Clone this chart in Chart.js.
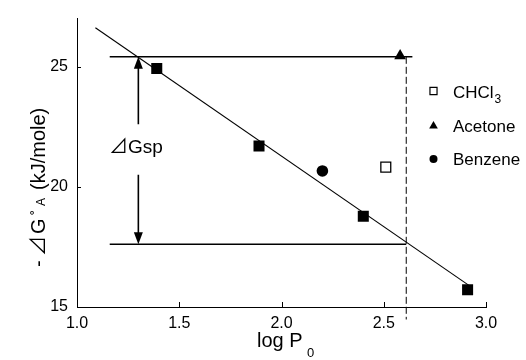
<!DOCTYPE html>
<html>
<head>
<meta charset="utf-8">
<script src="https://cdn.jsdelivr.net/npm/chart.js@4"></script>
<style>
    html, body { margin: 0; padding: 0; background: #fff; }
</style>
</head>
<body>
<canvas id="gspChart" width="526" height="360"></canvas>
<script>
// data
const xTicks = [1.0, 1.5, 2.0, 2.5, 3.0];
const yTicks = [15, 20, 25];

const refX = [1.39, 1.89, 2.40, 2.91];      // filled squares
const refY = [24.92, 21.70, 18.78, 15.72];
const chclX = [2.51];
const chclY = [20.82];
const acetoneX = [2.58];
const acetoneY = [25.45];
const benzeneX = [2.20];
const benzeneY = [20.66];

const fitX = [1.09, 2.92];
const fitY = [26.62, 15.88];

const upperX = [1.16, 2.64];
const upperY = [25.41, 25.41];
const lowerX = [1.16, 2.61];
const lowerY = [17.61, 17.61];
const dashX = [2.61, 2.61];
const dashY = [25.41, 14.48];

const arrowX = 1.30;
const arrowTop = 25.41;
const arrowBottom = 17.61;
const arrowGap = [22.6, 20.5];

const legendNames = ['CHCl', 'Acetone', 'Benzene'];

const pts = (xs, ys) => xs.map((x, i) => ({ x: x, y: ys[i] }));
const FONT = "'Liberation Sans', Arial, sans-serif";
const TRI_FONT = "'Noto Sans CJK JP', 'DejaVu Sans', sans-serif";

const lineSet = (data, extra) => Object.assign({
    type: 'line',
    data: data,
    borderColor: '#000',
    borderWidth: 1,
    pointRadius: 0,
    fill: false,
    tension: 0
}, extra);

/* tick marks, arrowheads, axis titles, annotation and legend */
const extras = {
    id: 'extras',
    afterDraw(chart) {
        const ctx = chart.ctx;
        const xs = chart.scales.x, ys = chart.scales.y;
        const area = chart.chartArea;
        ctx.save();
        ctx.strokeStyle = '#000';
        ctx.fillStyle = '#000';
        ctx.lineWidth = 1;

        // inward tick marks
        yTicks.forEach(v => {
            const py = Math.round(ys.getPixelForValue(v)) + 0.5;
            ctx.beginPath();
            ctx.moveTo(area.left, py);
            ctx.lineTo(area.left + 4, py);
            ctx.stroke();
        });
        xTicks.forEach(v => {
            const px = Math.round(xs.getPixelForValue(v)) + 0.5;
            ctx.beginPath();
            ctx.moveTo(px, area.bottom);
            ctx.lineTo(px, area.bottom - 5);
            ctx.stroke();
        });

        // arrowheads
        const ax = xs.getPixelForValue(arrowX);
        const at = ys.getPixelForValue(arrowTop);
        const ab = ys.getPixelForValue(arrowBottom);
        ctx.beginPath();
        ctx.moveTo(ax, at);
        ctx.lineTo(ax - 4.5, at + 12);
        ctx.lineTo(ax + 4.5, at + 12);
        ctx.closePath();
        ctx.fill();
        ctx.beginPath();
        ctx.moveTo(ax, ab);
        ctx.lineTo(ax - 4.5, ab - 12);
        ctx.lineTo(ax + 4.5, ab - 12);
        ctx.closePath();
        ctx.fill();

        // annotation
        ctx.textBaseline = 'alphabetic';
        ctx.textAlign = 'left';
        ctx.font = '19px ' + TRI_FONT;
        ctx.fillText('\u22BF', 109, 153);
        ctx.font = '19px ' + FONT;
        ctx.fillText('Gsp', 128, 153);

        // x title
        ctx.font = '20px ' + FONT;
        ctx.fillText('log P', 257, 347);
        ctx.font = '13px ' + FONT;
        ctx.fillText('0', 307, 357);

        // y title
        ctx.save();
        ctx.translate(45, 267);
        ctx.rotate(-Math.PI / 2);
        ctx.font = '20px ' + FONT;
        ctx.fillText('-', 0, 0);
        ctx.font = '20px ' + TRI_FONT;
        ctx.fillText('\u22BF', 11, 0);
        ctx.font = '20px ' + FONT;
        ctx.fillText('G', 33, 0);
        ctx.font = '15px ' + FONT;
        ctx.fillText('\u02DA', 52, -3);
        ctx.font = '12px ' + FONT;
        ctx.fillText('A', 61, 0);
        ctx.font = '20px ' + FONT;
        ctx.fillText('(kJ/mole)', 77, 0);
        ctx.restore();

        // legend
        const marks = [
            { pointStyle: 'rect', radius: 5, rotation: 0, borderWidth: 1.2, fill: '#fff', y: 91 },
            { pointStyle: 'triangle', radius: 5, rotation: 0, borderWidth: 0, fill: '#000', y: 126 },
            { pointStyle: 'circle', radius: 4, rotation: 0, borderWidth: 0, fill: '#000', y: 159 }
        ];
        const baselines = [98, 132, 165];
        marks.forEach((m, i) => {
            ctx.fillStyle = m.fill;
            ctx.strokeStyle = '#000';
            ctx.lineWidth = m.borderWidth;
            Chart.helpers.drawPoint(ctx, m, 433.5, m.y);
            ctx.fillStyle = '#000';
            ctx.font = '17px ' + FONT;
            ctx.fillText(legendNames[i], 453, baselines[i]);
        });
        ctx.font = '17px ' + FONT;
        const cw = ctx.measureText(legendNames[0]).width;
        ctx.font = '12px ' + FONT;
        ctx.fillText('3', 453 + cw + 1, 103);

        ctx.restore();
    }
};

new Chart(document.getElementById('gspChart'), {
    type: 'scatter',
    data: {
        datasets: [
            {
                label: 'ref',
                data: pts(refX, refY),
                pointStyle: 'rect',
                pointRadius: 7.8,
                backgroundColor: '#000',
                borderColor: '#000',
                borderWidth: 0
            },
            {
                label: 'CHCl3',
                data: pts(chclX, chclY),
                pointStyle: 'rect',
                pointRadius: 7,
                backgroundColor: '#fff',
                borderColor: '#000',
                borderWidth: 1.3
            },
            {
                label: 'Acetone',
                data: pts(acetoneX, acetoneY),
                pointStyle: 'triangle',
                pointRadius: 6.8,
                backgroundColor: '#000',
                borderColor: '#000',
                borderWidth: 0
            },
            {
                label: 'Benzene',
                data: pts(benzeneX, benzeneY),
                pointStyle: 'circle',
                pointRadius: 5.8,
                backgroundColor: '#000',
                borderColor: '#000',
                borderWidth: 0
            },
            lineSet(pts(fitX, fitY), { borderWidth: 1.1 }),
            lineSet(pts(upperX, upperY), { borderWidth: 1.6 }),
            lineSet(pts(lowerX, lowerY), { borderWidth: 1.4 }),
            lineSet(pts(dashX, dashY), { borderDash: [7, 3], clip: false }),
            lineSet(pts([arrowX, arrowX], [arrowTop - 0.3, arrowGap[0]]), { borderWidth: 1.6 }),
            lineSet(pts([arrowX, arrowX], [arrowGap[1], arrowBottom + 0.3]), { borderWidth: 1.6 })
        ]
    },
    options: {
        responsive: false,
        animation: false,
        layout: { padding: { top: 8, right: 40, left: 0, bottom: 0 } },
        plugins: {
            legend: { display: false },
            tooltip: { enabled: false }
        },
        scales: {
            x: {
                type: 'linear',
                min: 1.0,
                max: 3.0,
                afterBuildTicks: s => { s.ticks = xTicks.map(v => ({ value: v })); },
                afterFit: s => { s.height = 53; },
                grid: { display: false, drawTicks: false },
                border: { display: true, color: '#000', width: 1 },
                ticks: {
                    color: '#000',
                    padding: 7,
                    maxRotation: 0,
                    font: { family: FONT, size: 16 },
                    callback: v => v.toFixed(1)
                }
            },
            y: {
                type: 'linear',
                min: 15,
                max: 27,
                afterBuildTicks: s => { s.ticks = yTicks.map(v => ({ value: v })); },
                afterFit: s => { s.width = 77; },
                grid: { display: false, drawTicks: false },
                border: { display: true, color: '#000', width: 1 },
                ticks: {
                    color: '#000',
                    padding: 9,
                    font: { family: FONT, size: 16 },
                    callback: v => String(v)
                }
            }
        }
    },
    plugins: [extras]
});
</script>
</body>
</html>
